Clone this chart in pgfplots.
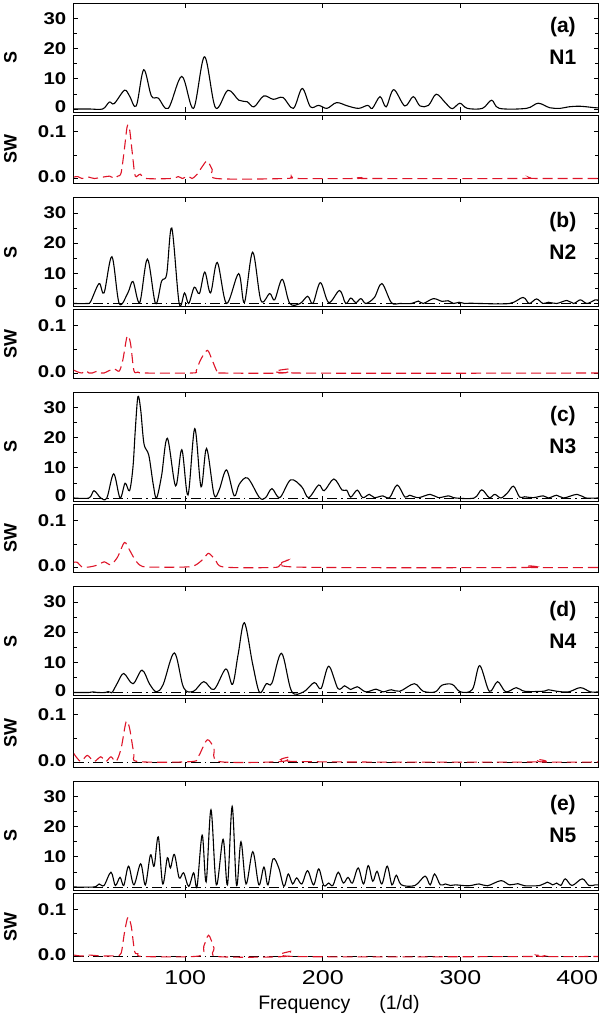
\documentclass[border=0pt]{standalone}
\usepackage{fontspec}
\setmainfont{Liberation Sans}
\newfontfamily\tickfont{Liberation Sans}[FakeStretch=1.2]
\newfontfamily\xtickfont{Liberation Sans}[FakeStretch=1.25]
\usepackage{pgfplots}
\pgfplotsset{compat=1.18}
\definecolor{swred}{RGB}{222,20,40}
\pgfplotsset{
  panel/.style={scale only axis, width=524.2pt, xmin=19, xmax=400,
    axis line style={line width=0.8pt}, tick style={line width=0.7pt, black},
    major tick length=4.5pt, minor tick length=3pt,
    xtick={100,200,300,400}, xticklabels={},
    xticklabel style={font=\xtickfont\fontsize{20}{20}\selectfont, yshift=-5pt},
    yticklabel style={font=\tickfont\fontsize{17}{17}\selectfont\bfseries, xshift=-4pt},
    ylabel style={at={(axis description cs:-0.121,0.5)}, anchor=center, font=\fontsize{18}{18}\selectfont\bfseries},
    anchor=north west},
  spanel/.style={panel, height=108.6pt, ymin=-1, ymax=35, ytick={0,10,20,30}, minor ytick={5,15,25},
    yticklabels={\raisebox{4pt}{0},10,20,30}, ylabel={S}},
  swpanel/.style={panel, height=68.5pt, ymin=-0.011, ymax=0.134, ytick={0,0.1}, minor ytick={0.05},
    yticklabels={\raisebox{3pt}{0.0},0.1}, ylabel={SW}},
  sline/.style={black, line width=1.1pt, smooth, tension=0.55, no marks},
  swline/.style={swred, line width=1.1pt, dash pattern=on 10pt off 5pt, smooth, tension=0.5, no marks},
  zline/.style={black, line width=0.6pt, dash pattern=on 10pt off 4pt on 1.5pt off 4pt, no marks},
}
\newcommand{\plab}[2]{%
  \node[font=\fontsize{21}{21}\selectfont\bfseries] at (axis description cs:0.933,0.778) {#1};
  \node[font=\fontsize{21}{21}\selectfont\bfseries] at (axis description cs:0.933,0.502) {#2};}
\begin{document}
\begin{tikzpicture}
\useasboundingbox (0,0) rectangle (600pt,1014pt);
% ---------------- (a)
\begin{axis}[spanel, at={(73.8pt,1010.6pt)}]
\addplot[sline] coordinates {(19,0) (30,0) (40,0) (44.8,2.3) (48.4,1.8) (55.8,6.2) (59.5,4.3) (64.4,1) (69.8,13) (75.4,4.3) (80.4,3.6) (87.7,0.2) (97.5,10.8) (106,0.2) (114,17.3) (122,0.4) (131,6.2) (139,2.9) (145,2.4) (150,0.7) (157,4.3) (164,3.2) (171,3.8) (178.6,0.2) (185,6.8) (191,0.7) (197,1.2) (203,0.2) (210,2.1) (218,1) (226,0.2) (232.6,1.2) (236,0.2) (241.6,4.1) (246,0.7) (251.5,6.4) (259.6,1) (265.7,4.1) (270.6,1) (276.8,1.2) (282.4,4.9) (289,2.1) (294,0.1) (299.6,1.9) (305,0.2) (316,0.2) (322.7,2.9) (328.3,0.2) (348,0.2) (356.5,1.9) (365,0.4) (372.5,0.2) (378.6,0.7) (387,0.9) (398,0.4) (400,0.4)};
\plab{(a)}{N1}
\end{axis}
\begin{axis}[swpanel, at={(73.8pt,898.8pt)}]
\addplot[swline] coordinates {(19,0.003) (22,0.004) (25,0) (30,0.003) (34,0) (45,0.005) (48,0) (51,0.005) (53.4,0.012) (55.8,0.063) (57.8,0.11) (59.5,0.105) (62,0.041) (63.7,0.005) (67.3,0.009) (71.8,0) (90,0) (95,0.004) (98,0) (102,0.005) (105,0) (108.6,0.009) (112.8,0.027) (116,0.037) (119.6,0.019) (122.6,0) (173.6,0) (177,0.005) (181,0) (225,0) (228,0.002) (231,0) (345,0) (350,0.002) (355,0) (400,0)};
\end{axis}
% ---------------- (b)
\begin{axis}[spanel, at={(73.8pt,816.1pt)}]
\addplot[zline] coordinates {(19,0) (400,0)};
\addplot[sline] coordinates {(19,0) (28.8,0) (31.3,0.7) (37.4,6.6) (41,3.5) (46.7,15.5) (52,0) (58.3,3.5) (62,7.3) (66.9,0.3) (72.5,14.7) (78.4,0) (82.8,7.4) (86.5,9.7) (90.2,25) (95.6,0) (99.5,3.5) (102.5,0) (106.6,5.4) (110.3,3.3) (114.2,10.4) (118.4,3.5) (123.3,13.6) (130,0) (138.8,9.9) (143,0.3) (149,17) (155,1) (161.4,3.3) (165,1.2) (170.5,8) (176,0) (183.5,0) (189,2.4) (192.8,0) (198.2,6.9) (204.3,0.3) (212.2,4.3) (216.6,0) (220.3,1.8) (224,0.3) (227.7,1.6) (231.3,0) (237.5,2) (242.9,6.6) (249.8,0.3) (256,0) (264.5,0) (269.4,0.8) (273,0) (280.4,1.6) (286.6,0.7) (291,0.9) (295,0) (299,0.4) (303,0) (307.4,0.1) (313.6,0) (335.7,0) (345.5,2) (350,0) (355.3,1.5) (360,0) (363.9,0.4) (370,0) (377.4,1) (382.3,0) (387.2,1.2) (392,0) (398,1.2) (400,1.0)};
\plab{(b)}{N2}
\end{axis}
\begin{axis}[swpanel, at={(73.8pt,704.3pt)}]
\addplot[swline] coordinates {(19,0.006) (22,0.002) (25,0) (27.6,0.005) (30,0) (32.5,0) (36.2,0.004) (39,0) (41,0) (44,0.004) (48.4,0.009) (52,0.004) (54.6,0.027) (57.8,0.078) (60.2,0.063) (62.7,0.005) (65.6,0.002) (70,0) (105,0) (108,0.005) (111,0.027) (116,0.048) (119.6,0.027) (123.3,0.002) (126,0) (171,0) (176,0.009) (179.8,0) (400,0)};
\end{axis}
% ---------------- (c)
\begin{axis}[spanel, at={(73.8pt,621.6pt)}]
\addplot[zline] coordinates {(19,0) (400,0)};
\addplot[sline] coordinates {(19,0) (30,0) (33.7,2.4) (38.6,0) (43,0) (48,8) (52.6,0) (56.3,4.9) (59.5,2.4) (62,10.2) (63.7,22.6) (65.6,33.6) (67.6,29.3) (70,18) (73.5,14.2) (76.7,4.6) (79.1,0) (82.8,7.4) (87,19.8) (93,4) (97.5,16) (102,1) (106.9,23) (111.5,3.7) (115.5,16.4) (120.9,1.2) (124.6,2.6) (130,9.3) (135.6,0.7) (139.3,4.6) (145.4,6.6) (154,0.1) (158.4,0.1) (163,3.1) (168.7,0.1) (176.6,6) (184.7,3.7) (189.6,0.1) (197,4.3) (201,2.4) (208,6.3) (214,2.6) (217.3,2.6) (220.3,0.3) (225,2.6) (229,0.1) (233.8,1.2) (237.5,0.1) (243.6,0.7) (248.5,0.1) (254,4.3) (259.6,0.3) (263,0.9) (269.4,0.1) (278,1.2) (284,0.1) (291.5,0.7) (296.4,0) (310,0) (315.5,2.7) (321,0.1) (325,1.2) (329.5,0) (334.4,1.8) (338.6,3.9) (343,0.3) (346.7,0.4) (352.9,0.1) (360.2,0.7) (364,0) (370,0.9) (375,0) (384.8,1.2) (391,0) (400,0)};
\plab{(c)}{N3}
\end{axis}
\begin{axis}[swpanel, at={(73.8pt,509.8pt)}]
\addplot[swline] coordinates {(19,0.011) (21.5,0.011) (25,0.001) (30,0.001) (36,0.005) (41,0.012) (46,0.006) (51,0.023) (55.8,0.053) (59.5,0.037) (63,0.019) (67,0.005) (73,0.001) (100,0.001) (107.4,0.005) (113.5,0.019) (117,0.03) (122,0.016) (128,0.001) (164,0) (168.7,0.005) (174.9,0.016) (180,0.001) (345,0) (348,0.004) (352,0) (400,0)};
\end{axis}
% ---------------- (d)
\begin{axis}[spanel, at={(73.8pt,427.1pt)}]
\addplot[zline] coordinates {(19,0) (400,0)};
\addplot[sline] coordinates {(19,0) (30,0) (33,0.2) (36,0) (42,0) (44,0.3) (46,0) (47.2,0.2) (50.9,3.3) (55.3,6.3) (62,2.9) (68.6,7.4) (74.2,2.7) (79.1,0.2) (84,2.7) (92.1,13.1) (98.8,1.6) (106,0.4) (113.5,3.6) (120.9,1) (129.5,7.8) (134.4,2.7) (138.5,12.8) (143,23.1) (149,9.4) (154,0) (158.9,2.9) (163,3.1) (170,13) (177.3,0.4) (186,0.2) (193.8,3.3) (198.7,1.3) (204.3,8.7) (211,1.3) (215.9,2.2) (220.3,1) (225,1.9) (231.3,0.2) (238.7,1.1) (243.6,0.2) (249.8,0.9) (256,0.4) (266.5,2.9) (273,0.4) (281.7,0.2) (286.6,2.4) (294,2.7) (300,0.2) (308.7,1) (314,8.9) (321,0.4) (327,3.6) (333,0.2) (340.6,1.6) (346.7,0.4) (360,0.4) (364,0.9) (370,0.4) (378.6,0.2) (387.2,1.6) (394.5,0.2) (400,0.2)};
\plab{(d)}{N4}
\end{axis}
\begin{axis}[swpanel, at={(73.8pt,315.3pt)}]
\addplot[zline] coordinates {(19,0) (400,0)};
\addplot[swline] coordinates {(19,0.018) (24,0.001) (28.8,0.014) (33.7,0.001) (38.6,0.011) (42.3,0.001) (46,0.011) (49.7,0.001) (53.4,0.029) (57,0.085) (59.5,0.072) (62.7,0.018) (65.6,0.001) (105,0.001) (109.8,0.013) (116,0.047) (120.9,0.029) (124.6,0.001) (170,0.001) (176,0.011) (181,0.001) (350,0) (355,0.006) (360,0) (400,0)};
\end{axis}
% ---------------- (e)
\begin{axis}[spanel, at={(73.8pt,232.6pt)}]
\addplot[zline] coordinates {(19,0) (400,0)};
\addplot[sline] coordinates {(19,0) (33.7,0) (37.4,1) (41,0.5) (46,4.9) (49.2,0.5) (52.6,3.2) (55.3,0.5) (58.8,6.9) (62.7,0.7) (67.6,7.7) (71,0.7) (74.7,10.6) (77.4,6.9) (80.4,16.6) (83.6,1) (87,9.7) (89.2,6.3) (92.1,10.8) (95.6,3) (98.8,4.7) (102.5,0.2) (106.1,4.7) (108.6,0.2) (112.3,17.2) (115.2,1.7) (118.7,25.6) (122.6,0.7) (127.5,15.8) (130.7,0.7) (134.1,26.7) (137.3,0.5) (140.5,15) (144.2,1) (149.1,11.7) (153.5,0.7) (157.2,6.6) (160.1,0.7) (163.8,9.3) (168,6.3) (171.7,0.2) (174.9,4.3) (178,1) (181,3) (184.7,1) (188.9,5.4) (193.3,0.7) (197,6) (200.7,0.5) (204.3,1.3) (207.3,0.5) (211.2,4.9) (214.9,1.3) (218.3,3.2) (221.5,1.3) (225.7,6.3) (229.6,1) (233,7.1) (236.3,1.9) (239.4,5.2) (242.9,1) (246.8,6.9) (250.2,0.7) (253.4,3.9) (257.1,0.7) (267,0.5) (274.3,3.6) (278,0.7) (281.2,4.3) (285.4,0.7) (289,1) (292.7,0.5) (296.4,0.7) (306,0.4) (313.6,1) (319.7,0.4) (329.5,2.1) (335.7,0.7) (341.8,1.1) (346.7,0.4) (357.8,0.5) (363.2,1.6) (367,0.7) (370,1.3) (373,0.5) (376.2,2.7) (381.1,0.5) (388.5,2.7) (393.4,0.5) (398,0.7) (400,0.7)};
\plab{(e)}{N5}
\end{axis}
\begin{axis}[swpanel, at={(73.8pt,120.8pt)},
  xticklabels={100,200,300,\makebox[0pt][r]{400}},
  xlabel={Frequency\hspace{29pt}(1/d)},
  xlabel style={at={(axis description cs:0.5,0)}, anchor=base, yshift=-48pt, xshift=3pt, font=\fontsize{19.5}{19.5}\selectfont}]
\addplot[zline] coordinates {(19,0) (400,0)};
\addplot[swline] coordinates {(19,0.003) (25,0.001) (30,0.003) (40,0.001) (50,0.002) (53.4,0.007) (55.8,0.05) (58.3,0.083) (60.7,0.065) (63.2,0.011) (65.6,0.006) (69.3,0) (109.8,0.001) (113.5,0.022) (117,0.045) (120.9,0.018) (123.3,0) (172.4,0) (176.6,0.011) (180.5,0) (350,0) (355,0.003) (360,0) (400,0)};
\end{axis}
\end{tikzpicture}
\end{document}
